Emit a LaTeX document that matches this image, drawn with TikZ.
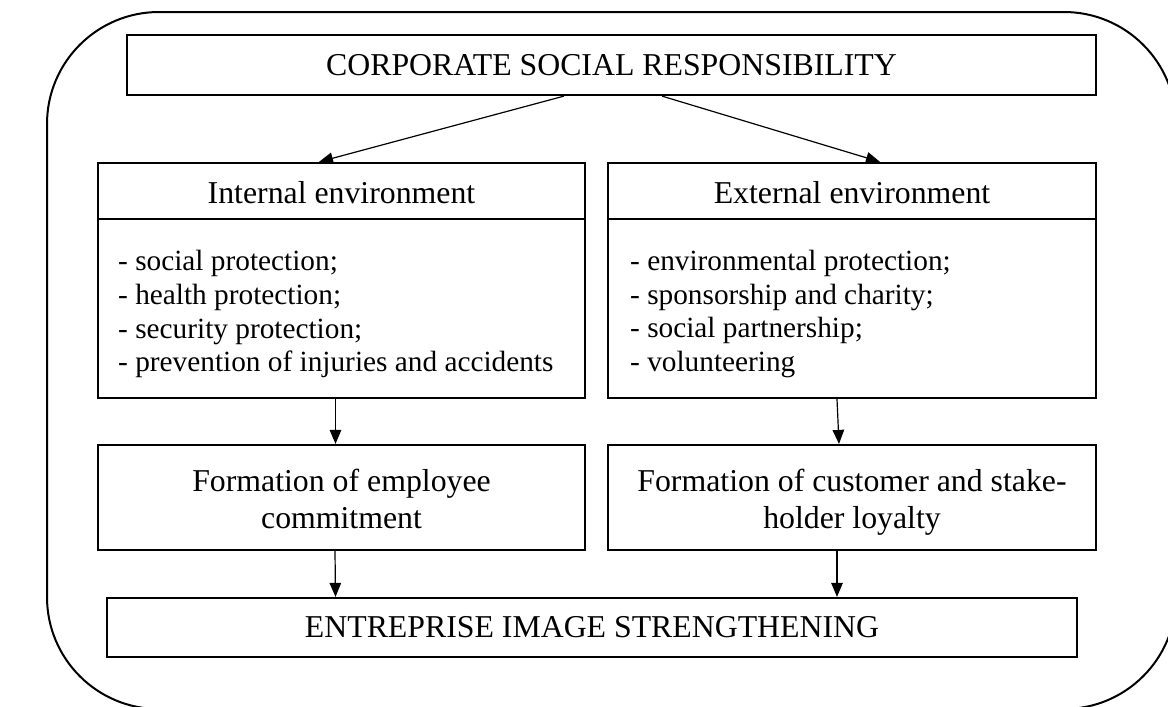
\documentclass[tikz,border=0pt]{standalone}
\usepackage{fontspec}
\setmainfont{Liberation Serif}
\usetikzlibrary{arrows.meta,calc}
\tikzset{
  box/.style={draw, line width=2.2pt, inner sep=0pt, align=center,
    font=\fontsize{31.8}{37}\selectfont},
  lbl/.style={inner sep=0pt, align=center, font=\fontsize{31.8}{37}\selectfont},
  items/.style={inner sep=0pt, align=left, anchor=west,
    font=\fontsize{29.3}{33.9}\selectfont},
  conn/.style={line width=1.2pt, -{Triangle[length=14pt,width=11.5pt]}},
  frame/.style={line width=2pt, rounded corners=112pt}
}
\begin{document}
\begin{tikzpicture}[x=1pt,y=-1pt]
\useasboundingbox (0,0) rectangle (1168,707);
\clip (0,0) rectangle (1168,707);
\fill[white] (0,0) rectangle (1168,707);
% outer frame
\draw[frame] (47,12) rectangle (1176,709);
% top box
\node[box, minimum width=969pt, minimum height=60pt] (csr) at (611.5,65)
  {\raisebox{-4pt}{CORPORATE SOCIAL RESPONSIBILITY}};
% environment boxes
\node[box, minimum width=487pt, minimum height=235pt] (int) at (341.5,280.5) {};
\node[box, minimum width=488pt, minimum height=235pt] (ext) at (852,280.5) {};
\draw[line width=2.2pt] ([yshift=-57pt]int.north west) -- ([yshift=-57pt]int.north east);
\draw[line width=2.2pt] ([yshift=-57pt]ext.north west) -- ([yshift=-57pt]ext.north east);
\node[lbl] (intt) at (341.5,193) {Internal environment};
\node[lbl] (extt) at (852,193) {External environment};
\node[items] (intl) at (118,314) {- social protection;\\- health protection;\\- security protection;\\- prevention of injuries and accidents};
\node[items] (extl) at (630,314) {- environmental protection;\\- sponsorship and charity;\\- social partnership;\\- volunteering};
% formation boxes
\node[box, minimum width=487pt, minimum height=105pt] (emp) at (341.5,497.5) {};
\node[box, minimum width=488pt, minimum height=105pt] (cus) at (852,497.5) {};
\node[lbl] (empt) at (341.5,502) {Formation of employee\\commitment\vphantom{y}};
\node[lbl] (cust) at (852,502) {Formation of customer and stake-\\holder loyalty};
% bottom box
\node[box, minimum width=970pt, minimum height=59pt] (ent) at (592,627.5)
  {\raisebox{-2pt}{ENTREPRISE IMAGE STRENGTHENING}};
% connectors
\draw[conn] ([xshift=-47.5pt]csr.south) -- ([xshift=-22.5pt]int.north);
\draw[conn] ([xshift=50.5pt]csr.south) -- ([xshift=28pt]ext.north);
\draw[conn] ([xshift=-6pt]int.south) -- ([xshift=-6pt]emp.north);
\draw[conn] ([xshift=-15pt]ext.south) -- ([xshift=-13pt]cus.north);
\draw[conn] ([xshift=-6.5pt]emp.south) -- ([xshift=-256.5pt]ent.north);
\draw[conn] ([xshift=-15pt]cus.south) -- ([xshift=245pt]ent.north);
\end{tikzpicture}
\end{document}
